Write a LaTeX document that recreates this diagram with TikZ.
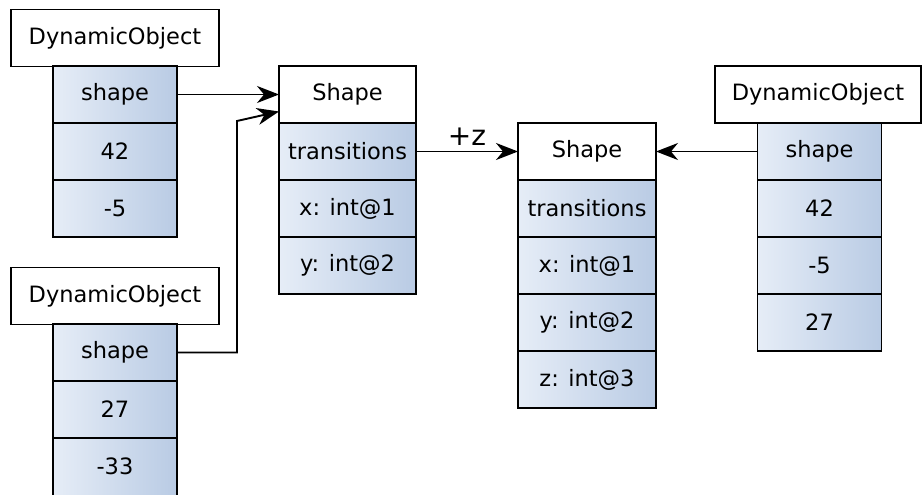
\documentclass[tikz,border=0pt]{standalone}
\usepackage{fontspec}
\setmainfont{DejaVu Sans}
\usetikzlibrary{arrows.meta}
\definecolor{cellL}{HTML}{E6EDF7}
\definecolor{cellR}{HTML}{B9CBE4}
\begin{document}
\begin{tikzpicture}[x=1pt,y=-1pt,
  base/.style={draw, line width=1.9pt, inner sep=0pt, outer sep=0pt,
    minimum height=57pt, font=\fontsize{22.5}{26}\selectfont},
  head/.style={base, fill=white},
  cell/.style={base, left color=cellL, right color=cellR},
  link/.style={line width=1.9pt, -{Stealth[length=22pt,width=17pt,inset=7pt]}}]
\useasboundingbox (0,0) rectangle (922,495);

% object on the top left
\node[head, minimum width=208pt] (ah) at (115,38) {DynamicObject};
\node[cell, minimum width=124pt] (a0) at (115,94.5) {shape};
\node[cell, minimum width=124pt] (a1) at (115,151.5) {42};
\node[cell, minimum width=124pt] (a2) at (115,208.5) {-5};

% object on the bottom left (its last cell runs past the lower edge)
\node[head, minimum width=208pt] (bh) at (115,296) {DynamicObject};
\node[cell, minimum width=124pt] (b0) at (115,352.5) {shape};
\node[cell, minimum width=124pt] (b1) at (115,409.5) {27};
\node[cell, minimum width=124pt, minimum height=63pt] (b2) at (115,469.5) {};
\node[font=\fontsize{22.5}{26}\selectfont] at (115,466.5) {-33};

% first shape
\node[head, minimum width=137pt] (sh) at (347.5,94.5) {Shape};
\node[cell, minimum width=137pt] (s0) at (347.5,151.5) {transitions};
\node[cell, minimum width=137pt] (s1) at (347.5,208.5) {x: int@1};
\node[cell, minimum width=137pt] (s2) at (347.5,265.5) {y: int@2};

% shape after adding z
\node[head, minimum width=138pt] (th) at (587,151.5) {Shape};
\node[cell, minimum width=138pt] (t0) at (587,208.5) {transitions};
\node[cell, minimum width=138pt] (t1) at (587,265.5) {x: int@1};
\node[cell, minimum width=138pt] (t2) at (587,322.5) {y: int@2};
\node[cell, minimum width=138pt] (t3) at (587,379.5) {z: int@3};

% object on the right
\node[head, minimum width=206pt] (ch) at (818,94.5) {DynamicObject};
\node[cell, minimum width=124pt] (c0) at (819.5,151.5) {shape};
\node[cell, minimum width=124pt] (c1) at (819.5,208.5) {42};
\node[cell, minimum width=124pt] (c2) at (819.5,265.5) {-5};
\node[cell, minimum width=124pt] (c3) at (819.5,322.5) {27};

% pointers
\coordinate (bend) at (237,121);
\draw[link] (a0.east) -- (sh.west);
\draw[link] (b0.east) -| (bend) -- ([yshift=-17pt]sh.west);
\draw[link] (s0.east) -- node[above=2pt, font=\fontsize{28}{32}\selectfont] {+z} (th.west);
\draw[link] (c0.west) -- (th.east);
\end{tikzpicture}
\end{document}
